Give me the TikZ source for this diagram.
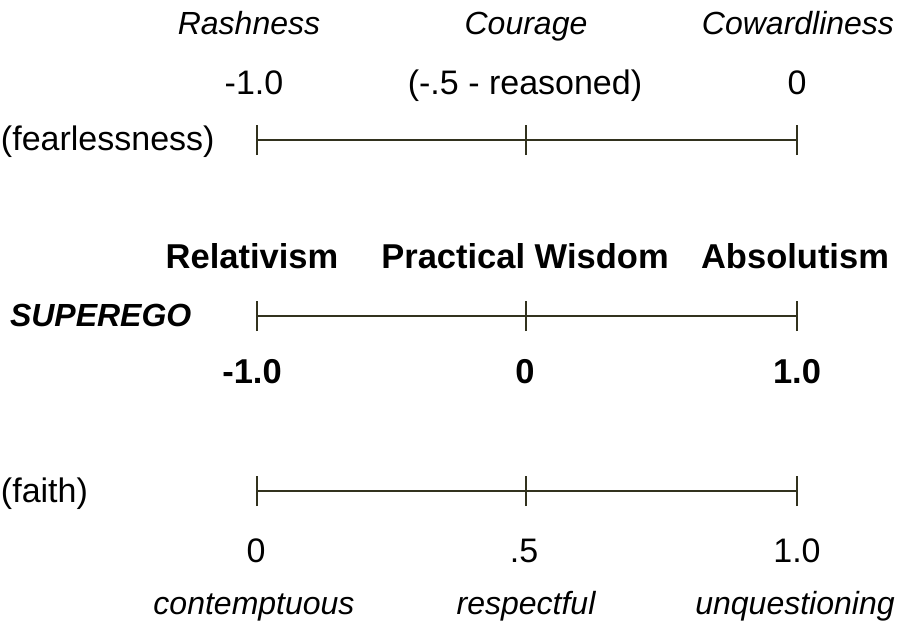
\documentclass[tikz,border=0pt]{standalone}
\usepackage{fontspec}
\setmainfont{Liberation Sans}
\begin{document}
\begin{tikzpicture}[x=1pt,y=-1pt,
  every node/.style={inner sep=0pt,outer sep=0pt,anchor=base},
  lbl/.style={font=\fontsize{34}{38}\selectfont},
  ilbl/.style={font=\fontsize{32}{36}\selectfont\itshape},
  blbl/.style={font=\fontsize{34.5}{38}\selectfont\bfseries},
  axis/.style={draw={rgb,255:red,50;green,50;blue,30},line width=1.6pt},
  tickmark/.style={draw={rgb,255:red,50;green,50;blue,30},line width=1.6pt}]
\useasboundingbox (0,0) rectangle (898,624);
% top scale
\node[ilbl] (rash) at (249,34) {Rashness};
\node[ilbl] (cour) at (526,34) {Courage};
\node[ilbl] (cowa) at (798,34) {Cowardliness};
\node[lbl] (v1a) at (254,94) {-1.0};
\node[lbl] (v1b) at (525,94) {(-.5 - reasoned)};
\node[lbl] (v1c) at (797,94) {0};
\node[lbl,anchor=base west] (fear) at (1,150) {(fearlessness)};
\coordinate (a1) at (257,140);
\coordinate (a2) at (526,140);
\coordinate (a3) at (797,140);
\draw[axis] (a1) -- (a2) -- (a3);
\foreach \c in {a1,a2,a3} \draw[tickmark] ([yshift=-15pt]\c) -- ([yshift=15pt]\c);
% middle scale
\node[blbl] (rel) at (252,268) {Relativism};
\node[blbl] (pw) at (525,268) {Practical Wisdom};
\node[blbl] (abs) at (795,268) {Absolutism};
\node[blbl,font=\fontsize{32}{36}\selectfont\bfseries\itshape,anchor=base west] (sup) at (10,326) {SUPEREGO};
\coordinate (b1) at (257,316);
\coordinate (b2) at (526,316);
\coordinate (b3) at (797,316);
\draw[axis] (b1) -- (b2) -- (b3);
\foreach \c in {b1,b2,b3} \draw[tickmark] ([yshift=-15pt]\c) -- ([yshift=15pt]\c);
\node[blbl] (m1) at (252,383) {-1.0};
\node[blbl] (m2) at (525,383) {0};
\node[blbl] (m3) at (797,383) {1.0};
% bottom scale
\node[lbl,anchor=base west] (faith) at (1,502) {(faith)};
\coordinate (c1) at (257,491);
\coordinate (c2) at (526,491);
\coordinate (c3) at (797,491);
\draw[axis] (c1) -- (c2) -- (c3);
\foreach \c in {c1,c2,c3} \draw[tickmark] ([yshift=-15pt]\c) -- ([yshift=15pt]\c);
\node[lbl] (f1) at (256,562) {0};
\node[lbl] (f2) at (524,562) {.5};
\node[lbl] (f3) at (797,562) {1.0};
\node[ilbl] (w1) at (254,614) {contemptuous};
\node[ilbl] (w2) at (526,614) {respectful};
\node[ilbl] (w3) at (795,614) {unquestioning};
\end{tikzpicture}
\end{document}
